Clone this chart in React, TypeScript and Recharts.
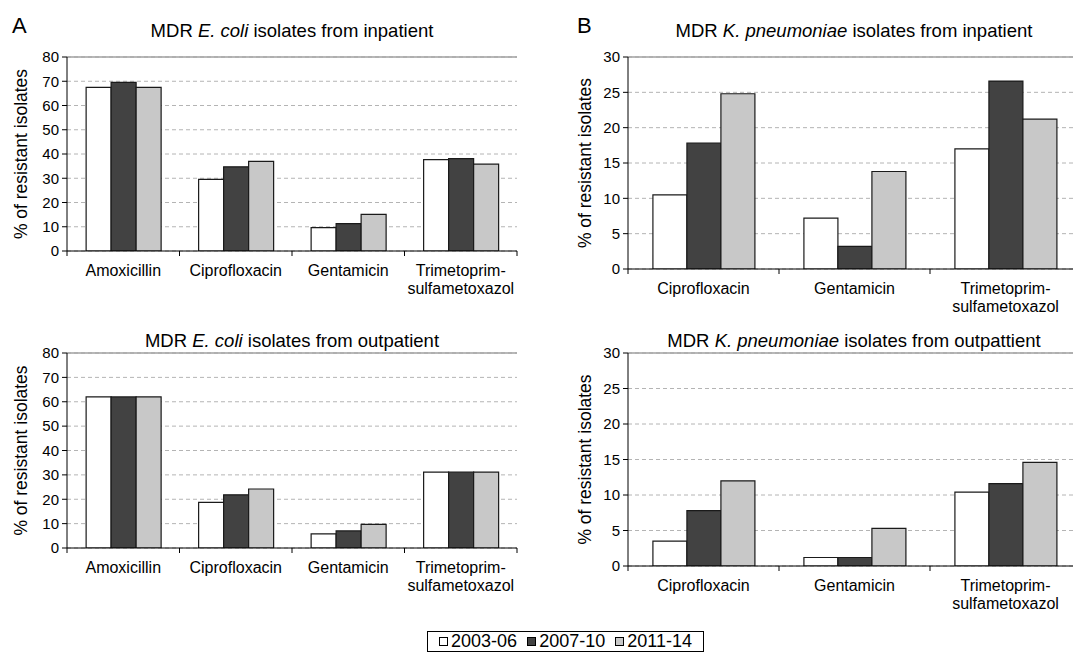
import React from 'react';
import { BarChart, Bar, XAxis, YAxis, CartesianGrid, ReferenceLine } from 'recharts';

const FONT = '"Liberation Sans", Arial, Helvetica, sans-serif';

// ---- Data ----
const seriesNames = ['2003-06', '2007-10', '2011-14'];
const seriesColors = ['#ffffff', '#424242', '#c8c8c8'];

const categoriesEcoli = ['Amoxicillin', 'Ciprofloxacin', 'Gentamicin', 'Trimetoprim-\nsulfametoxazol'];
const ecoliIn2003 = [67.5, 29.5, 9.6, 37.7];
const ecoliIn2007 = [69.5, 34.7, 11.3, 38.1];
const ecoliIn2011 = [67.5, 37.0, 15.1, 35.8];
const ecoliOut2003 = [62.0, 18.7, 5.8, 31.1];
const ecoliOut2007 = [62.0, 21.8, 7.0, 31.1];
const ecoliOut2011 = [62.0, 24.2, 9.7, 31.1];

const categoriesKpn = ['Ciprofloxacin', 'Gentamicin', 'Trimetoprim-\nsulfametoxazol'];
const kpnIn2003 = [10.5, 7.2, 17.0];
const kpnIn2007 = [17.8, 3.2, 26.6];
const kpnIn2011 = [24.8, 13.8, 21.2];
const kpnOut2003 = [3.5, 1.2, 10.4];
const kpnOut2007 = [7.8, 1.2, 11.6];
const kpnOut2011 = [12.0, 5.3, 14.6];

const ticksEcoli = [0, 10, 20, 30, 40, 50, 60, 70, 80];
const ticksKpn = [0, 5, 10, 15, 20, 25, 30];

const yLabel = '% of resistant isolates';

function buildRows(cats: string[], a: number[], b: number[], c: number[]) {
  return cats.map((name, i) => ({ name, p1: a[i], p2: b[i], p3: c[i] }));
}

type PanelProps = {
  cats: string[];
  a: number[];
  b: number[];
  c: number[];
  ticks: number[];
  left: number;
  top: number;
  width: number;
  height: number;
  margin: { top: number; right: number; bottom: number; left: number };
  yAxisWidth: number;
  labelOffset: number;
  rightBorder: boolean;
  gap: string;
};

function Panel(p: PanelProps) {
  const data = buildRows(p.cats, p.a, p.b, p.c);
  const yMax = p.ticks[p.ticks.length - 1];
  const plotW = p.width - p.margin.left - p.margin.right - p.yAxisWidth;
  const fallbackHalf = plotW / p.cats.length / 2;
  const n = p.cats.length;

  const renderTick = (props: any) => {
    const { x, y, payload, index } = props;
    const h = payload && payload.offset > 0 ? payload.offset : fallbackHalf;
    const lines = String(payload.value).split('\n');
    return (
      <g>
        <line x1={x - h} x2={x - h} y1={y} y2={y + 5} stroke="#000" strokeWidth={1} />
        {index === n - 1 && <line x1={x + h} x2={x + h} y1={y} y2={y + 5} stroke="#000" strokeWidth={1} />}
        <text x={x} y={y} textAnchor="middle" fontSize={16} fontFamily={FONT} fill="#000">
          {lines.map((l, i) => (
            <tspan key={i} x={x} dy={i === 0 ? 25 : 18}>
              {l}
            </tspan>
          ))}
        </text>
      </g>
    );
  };

  return (
    <div style={{ position: 'absolute', left: p.left, top: p.top }}>
      <BarChart
        width={p.width}
        height={p.height}
        data={data}
        margin={p.margin}
        barGap={0}
        barCategoryGap={p.gap}
      >
        <CartesianGrid vertical={false} stroke="#b4b4b4" strokeDasharray="4 3" />
        <XAxis
          dataKey="name"
          height={50}
          tickSize={0}
          tickMargin={0}
          interval={0}
          axisLine={{ stroke: '#000', strokeWidth: 1 }}
          tickLine={false}
          tick={renderTick}
        />
        <YAxis
          width={p.yAxisWidth}
          domain={[0, yMax]}
          ticks={p.ticks}
          interval={0}
          allowDataOverflow
          axisLine={{ stroke: '#000', strokeWidth: 1 }}
          tickLine={{ stroke: '#000' }}
          tickSize={5}
          tickMargin={3}
          tick={{ fill: '#000', fontSize: 15, fontFamily: FONT }}
          label={{
            value: yLabel,
            angle: -90,
            position: 'insideLeft',
            offset: p.labelOffset,
            style: { textAnchor: 'middle', fill: '#000', fontSize: 17.5, fontFamily: FONT },
          }}
        />
        {p.rightBorder && (
          <YAxis
            yAxisId="r"
            orientation="right"
            width={0}
            domain={[0, yMax]}
            ticks={p.ticks}
            interval={0}
            allowDataOverflow
            tickFormatter={() => ''}
            axisLine={{ stroke: '#a0a0a0', strokeWidth: 1.5 }}
            tickLine={{ stroke: '#000' }}
            tickSize={2}
          />
        )}
        <ReferenceLine y={yMax} stroke="#a0a0a0" strokeWidth={1.5} />
        <Bar dataKey="p1" name={seriesNames[0]} fill={seriesColors[0]} stroke="#1a1a1a" strokeWidth={1.2} isAnimationActive={false} />
        <Bar dataKey="p2" name={seriesNames[1]} fill={seriesColors[1]} stroke="#1a1a1a" strokeWidth={1.2} isAnimationActive={false} />
        <Bar dataKey="p3" name={seriesNames[2]} fill={seriesColors[2]} stroke="#1a1a1a" strokeWidth={1.2} isAnimationActive={false} />
      </BarChart>
    </div>
  );
}

function Title({ cx, cy, pre, it, post }: { cx: number; cy: number; pre: string; it: string; post: string }) {
  return (
    <div
      style={{
        position: 'absolute',
        left: cx - 250,
        width: 500,
        top: cy - 11,
        height: 22,
        lineHeight: '22px',
        textAlign: 'center',
        fontSize: 18.5,
        fontFamily: FONT,
        color: '#000',
        whiteSpace: 'nowrap',
      }}
    >
      {pre}
      <i>{it}</i>
      {post}
    </div>
  );
}

export default function App() {
  return (
    <div
      style={{
        position: 'absolute',
        left: 0,
        top: 0,
        width: 1073,
        height: 652,
        background: '#fff',
        overflow: 'hidden',
        fontFamily: FONT,
      }}
    >
      <Panel
        cats={categoriesEcoli}
        a={ecoliIn2003}
        b={ecoliIn2007}
        c={ecoliIn2011}
        ticks={ticksEcoli}
        left={0}
        top={0}
        width={540}
        height={310}
        margin={{ top: 57, right: 23, bottom: 9, left: 0 }}
        yAxisWidth={67}
        labelOffset={21}
        rightBorder={true}
        gap="17%"
      />
      <Panel
        cats={categoriesEcoli}
        a={ecoliOut2003}
        b={ecoliOut2007}
        c={ecoliOut2011}
        ticks={ticksEcoli}
        left={0}
        top={300}
        width={540}
        height={310}
        margin={{ top: 53, right: 23, bottom: 12, left: 0 }}
        yAxisWidth={67}
        labelOffset={21}
        rightBorder={true}
        gap="17%"
      />
      <Panel
        cats={categoriesKpn}
        a={kpnIn2003}
        b={kpnIn2007}
        c={kpnIn2011}
        ticks={ticksKpn}
        left={540}
        top={0}
        width={541}
        height={320}
        margin={{ top: 57, right: 0, bottom: 1, left: 0 }}
        yAxisWidth={88}
        labelOffset={45}
        rightBorder={false}
        gap="16.5%"
      />
      <Panel
        cats={categoriesKpn}
        a={kpnOut2003}
        b={kpnOut2007}
        c={kpnOut2011}
        ticks={ticksKpn}
        left={540}
        top={300}
        width={541}
        height={330}
        margin={{ top: 53, right: 0, bottom: 14, left: 0 }}
        yAxisWidth={88}
        labelOffset={45}
        rightBorder={false}
        gap="16.5%"
      />

      <div style={{ position: 'absolute', left: 12, top: 14, fontSize: 22, lineHeight: '24px', fontFamily: FONT }}>A</div>
      <div style={{ position: 'absolute', left: 577, top: 14, fontSize: 22, lineHeight: '24px', fontFamily: FONT }}>B</div>

      <Title cx={292} cy={31} pre="MDR " it="E. coli" post=" isolates from inpatient" />
      <Title cx={854} cy={31} pre="MDR " it="K. pneumoniae" post=" isolates from inpatient" />
      <Title cx={292} cy={341} pre="MDR " it="E. coli" post=" isolates from outpatient" />
      <Title cx={854} cy={341} pre="MDR " it="K. pneumoniae" post=" isolates from outpattient" />

      <div
        style={{
          position: 'absolute',
          left: 427,
          top: 631,
          width: 277,
          height: 21,
          boxSizing: 'border-box',
          border: '1px solid #000',
          display: 'flex',
          alignItems: 'center',
          justifyContent: 'center',
          gap: 10,
          fontSize: 18,
          fontFamily: FONT,
          lineHeight: '19px',
          color: '#000',
        }}
      >
        {seriesNames.map((s, i) => (
          <span key={s} style={{ display: 'flex', alignItems: 'center' }}>
            <span
              style={{
                display: 'inline-block',
                width: 7,
                height: 7,
                border: '1px solid #000',
                background: seriesColors[i],
                marginRight: 3,
              }}
            />
            {s}
          </span>
        ))}
      </div>
    </div>
  );
}
